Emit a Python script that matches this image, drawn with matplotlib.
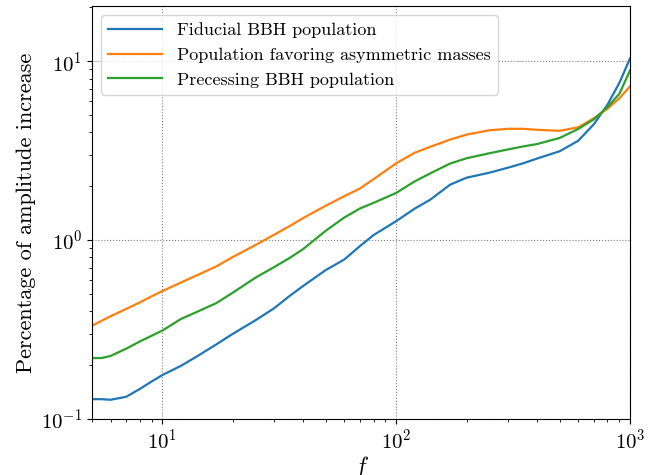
import matplotlib
matplotlib.use("Agg")
import matplotlib.pyplot as plt
import numpy as np

plt.rcParams['font.family'] = 'serif'
plt.rcParams['font.serif'] = ['cmr10']
plt.rcParams['mathtext.fontset'] = 'cm'
plt.rcParams['axes.formatter.use_mathtext'] = True

# frequency grid
freq = [5, 5.5, 6, 7, 8, 9, 10, 12, 14, 17, 20, 25, 30, 35, 40, 50, 60, 70, 80,
        100, 120, 140, 170, 200, 250, 300, 350, 400, 500, 600, 700, 800, 900, 1000]

fiducial = [0.129, 0.129, 0.128, 0.133, 0.147, 0.162, 0.176, 0.198, 0.223, 0.261,
            0.299, 0.356, 0.415, 0.487, 0.554, 0.680, 0.779, 0.926, 1.066,
            1.276, 1.499, 1.683, 2.040, 2.232, 2.379, 2.537, 2.688, 2.855, 3.136,
            3.588, 4.436, 5.697, 7.556, 10.35]

asym = [0.332, 0.354, 0.375, 0.412, 0.448, 0.485, 0.519, 0.579, 0.634, 0.712,
        0.804, 0.938, 1.070, 1.197, 1.327, 1.557, 1.760, 1.943, 2.189,
        2.688, 3.076, 3.323, 3.644, 3.886, 4.107, 4.187, 4.187, 4.134, 4.081,
        4.268, 4.791, 5.412, 6.194, 7.226]

precess = [0.219, 0.219, 0.225, 0.247, 0.271, 0.292, 0.312, 0.362, 0.396, 0.444,
           0.508, 0.616, 0.705, 0.794, 0.891, 1.128, 1.337, 1.502, 1.614,
           1.835, 2.128, 2.361, 2.678, 2.867, 3.056, 3.209, 3.340, 3.440, 3.720,
           4.176, 4.730, 5.534, 6.562, 8.875]

labels = ["Fiducial BBH population",
          "Population favoring asymmetric masses",
          "Precessing BBH population"]

fig = plt.figure(figsize=(6.59, 4.75), dpi=100)
ax = fig.add_axes([0.1396, 0.118, 0.8164, 0.869])

ax.plot(freq, fiducial, color='tab:blue', lw=1.6, label=labels[0])
ax.plot(freq, asym, color='tab:orange', lw=1.6, label=labels[1])
ax.plot(freq, precess, color='tab:green', lw=1.6, label=labels[2])

ax.set_xscale('log')
ax.set_yscale('log')
ax.set_xlim(5, 1000)
ax.set_ylim(0.1, 20.3)
ax.grid(True, which='major', ls=':', color='gray', lw=0.8)
ax.tick_params(labelsize=15)
ax.set_xlabel('$f$', fontsize=17, labelpad=1)
ax.set_ylabel('Percentage of amplitude increase', fontsize=16)
ax.legend(loc='upper left', fontsize=13, handlelength=3)

fig.savefig('out.png', dpi=100)
